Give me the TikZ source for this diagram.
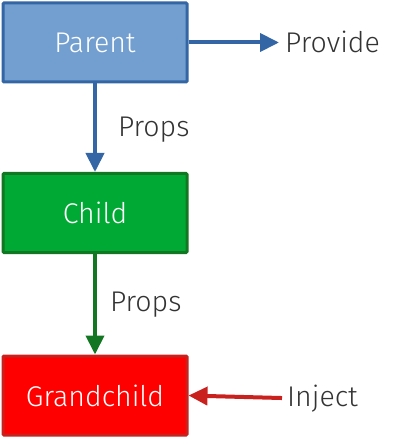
\documentclass[tikz,border=0pt]{standalone}
\usepackage{fontspec}
\setmainfont{Fira Sans Light}
\usepackage{tikz}
\usetikzlibrary{arrows,arrows.meta}
\definecolor{pfill}{HTML}{729FCF}
\definecolor{pline}{HTML}{3465A4}
\definecolor{cfill}{HTML}{00A933}
\definecolor{cline}{HTML}{127622}
\definecolor{gfill}{HTML}{FF0000}
\definecolor{gline}{HTML}{C9211E}
\definecolor{lbl}{HTML}{333333}

\begin{document}
\begin{tikzpicture}[x=1pt,y=1pt,font=\fontsize{28.5}{33}\selectfont]
		\useasboundingbox (0,0) rectangle (401,-446);
		%定义具体形状
		\node (P) [minimum width=184pt,minimum height=79pt,draw=pline,fill=pfill,line width=3pt,rounded corners=1pt,text=white] at (95,-42.5) {Parent};
		\node (C) [minimum width=184pt,minimum height=79pt,draw=cline,fill=cfill,line width=3pt,rounded corners=1pt,text=white,below of=P,node distance=170.5pt] {Child};
		\node (G) [minimum width=184pt,minimum height=79pt,draw=gline,fill=gfill,line width=3pt,rounded corners=1pt,text=white,below of=C,node distance=182.5pt] {Grandchild};
		\node (PR) [anchor=base west,inner sep=0pt,text=lbl] at (285,-52.5) {Provide};
		\node (IN) [anchor=base west,inner sep=0pt,text=lbl] at (287,-406) {Inject};
		
		
		%连接具体形状
		\draw[arrows={-Triangle[length=19pt,width=18pt]},line width=4pt,draw=pline](P) -- (C) node[midway,right=21pt,yshift=-2pt,inner sep=0pt,text=lbl]{Props} ;
		\draw[arrows={-Triangle[length=19pt,width=18pt]},line width=4pt,draw=pline,shorten >=6pt](P.east) -- (P.east -| PR.west) ;
		\draw[arrows={-Triangle[length=19pt,width=18pt]},line width=4pt,draw=cline](C) -- (G) node[midway,right=13pt,inner sep=0pt,text=lbl]{Props} ;
		\draw[arrows={-Triangle[length=19pt,width=18pt]},line width=4pt,draw=gline,shorten <=5pt](IN.west) -- (G.east) ;
	\end{tikzpicture}
\end{document}
